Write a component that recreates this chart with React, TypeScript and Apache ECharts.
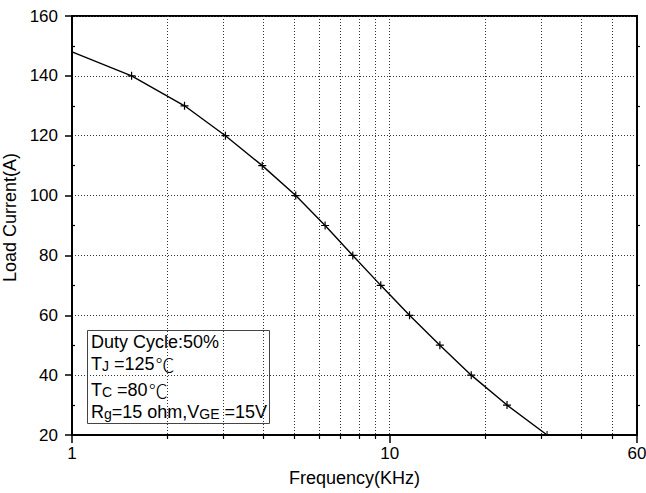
import React, { useEffect, useRef } from "react";
import * as echarts from "echarts";

// ---- data ----
const frequencyKHz = [1, 1.54, 2.26, 3.04, 3.97, 5.06, 6.26, 7.65, 9.37, 11.54, 14.38, 18.05, 23.39, 31.27];
const loadCurrentA = [148, 140, 130, 120, 110, 100, 90, 80, 70, 60, 50, 40, 30, 20];
const xRange = [1, 60];
const yRange = [20, 160];
const yStep = 20;
const noteLines = [
  "Duty Cycle:50%",
  "T{s|J} =125{d|℃}",
  "T{s|C} =80{d|℃}",
  "R{s|g}=15 ohm,V{s|GE} =15V",
];

const FONT = "'Liberation Sans', Arial, Helvetica, sans-serif";
const CJK = "Noto Sans CJK SC, Noto Sans CJK JP, sans-serif";
const PLUS = "path://M0,3.4H8V4.6H0Z M3.4,0H4.6V8H3.4Z";
const HALF_TICK = "path://M0,0H1V4H0Z";

const seriesData = frequencyKHz.map((f, i) => {
  if (i === 0) return { value: [f, loadCurrentA[i]], symbol: "none" };
  if (i === frequencyKHz.length - 1)
    return { value: [f, loadCurrentA[i]], symbol: HALF_TICK, symbolSize: [1, 4], symbolOffset: [0, -2] };
  return { value: [f, loadCurrentA[i]] };
});

const dotted = { color: "#333", type: [1, 2] as any, width: 1 };

const noteYs = [342, 364, 390, 412];

const option: any = {
  animation: false,
  backgroundColor: "#fff",
  textStyle: { fontFamily: FONT, color: "#000" },
  grid: {
    left: 72,
    right: 9,
    top: 16,
    bottom: 58,
    containLabel: false,
    outerBoundsMode: "none",
    show: true,
    borderColor: "#000",
    borderWidth: 2,
    backgroundColor: "transparent",
  },
  xAxis: [
    {
      type: "log",
      logBase: 10,
      min: xRange[0],
      max: xRange[1],
      name: "Frequency(KHz)",
      nameLocation: "middle",
      nameGap: 34,
      nameTextStyle: { fontSize: 18, color: "#000", fontFamily: FONT },
      axisLine: { show: true, onZero: false, lineStyle: { color: "#000", width: 2 } },
      axisTick: { show: true, inside: false, length: 8, lineStyle: { color: "#000", width: 1.5 } },
      minorTick: { show: true, splitNumber: 9, length: 4, lineStyle: { color: "#000", width: 1.2 } },
      axisLabel: { fontSize: 17, color: "#000", margin: 10, fontFamily: FONT, showMinLabel: true, showMaxLabel: true },
      splitLine: { show: true, lineStyle: dotted },
      minorSplitLine: { show: true, lineStyle: dotted },
    },
  ],
  yAxis: [
    {
      type: "value",
      min: yRange[0],
      max: yRange[1],
      interval: yStep,
      name: "Load Current(A)",
      nameLocation: "middle",
      nameGap: 44,
      nameTextStyle: { fontSize: 18, color: "#000", fontFamily: FONT, padding: [0, 0, 0, 16] },
      axisLine: { show: true, onZero: false, lineStyle: { color: "#000", width: 2 } },
      axisTick: { show: true, inside: false, length: 7, lineStyle: { color: "#000", width: 1.5 } },
      axisLabel: { fontSize: 17, color: "#000", margin: 14, fontFamily: FONT },
      splitLine: { show: true, lineStyle: dotted },
    },
    {
      type: "value",
      position: "left",
      min: yRange[0],
      max: yRange[1],
      interval: yStep,
      axisLine: { show: false },
      axisTick: { show: false, inside: true },
      minorTick: { show: true, splitNumber: 2, length: 3, lineStyle: { color: "#000", width: 1.2 } },
      axisLabel: { show: false },
      splitLine: { show: false },
    },
    {
      type: "value",
      position: "right",
      min: yRange[0],
      max: yRange[1],
      interval: yStep,
      axisLine: { show: true, onZero: false, lineStyle: { color: "#000", width: 2 } },
      axisTick: { show: false, inside: false },
      minorTick: { show: true, splitNumber: 2, length: 3, lineStyle: { color: "#000", width: 1.2 } },
      axisLabel: { show: false },
      splitLine: { show: false },
    },
  ],
  series: [
    {
      type: "line",
      xAxisIndex: 0,
      yAxisIndex: 0,
      data: seriesData,
      symbol: PLUS,
      symbolSize: 8,
      showSymbol: true,
      showAllSymbol: true,
      itemStyle: { color: "#000" },
      lineStyle: { color: "#000", width: 1.4 },
      emphasis: { disabled: true },
      silent: true,
      z: 5,
    },
  ],
  graphic: [
    {
      type: "group",
      z: 100,
      children: [
        {
          type: "rect",
          shape: { x: 87.5, y: 330.5, width: 182, height: 93 },
          style: { fill: "#fff", stroke: "#444", lineWidth: 1 },
        },
        ...noteLines.map((t, i) => ({
          type: "text",
          x: 91,
          y: noteYs[i],
          style: {
            text: t,
            fill: "#000",
            fontSize: 18,
            fontFamily: FONT,
            verticalAlign: "middle",
            align: "left",
            rich: {
              s: { fontSize: 14, fontFamily: FONT, fill: "#000", padding: [3, 0, 0, 0] },
              d: { fontSize: 19, fontWeight: 300, fontFamily: CJK, fill: "#000", padding: [0, 0, 0, 1] },
            },
          },
        })),
      ],
    },
  ],
};

export default function App() {
  const ref = useRef<HTMLDivElement>(null);
  useEffect(() => {
    const chart = echarts.init(ref.current!, null, { renderer: "svg" });
    chart.setOption(option);
    return () => chart.dispose();
  }, []);
  return (
    <div
      ref={ref}
      style={{ position: "fixed", left: 0, top: 0, width: 646, height: 493, background: "#fff" }}
    />
  );
}
